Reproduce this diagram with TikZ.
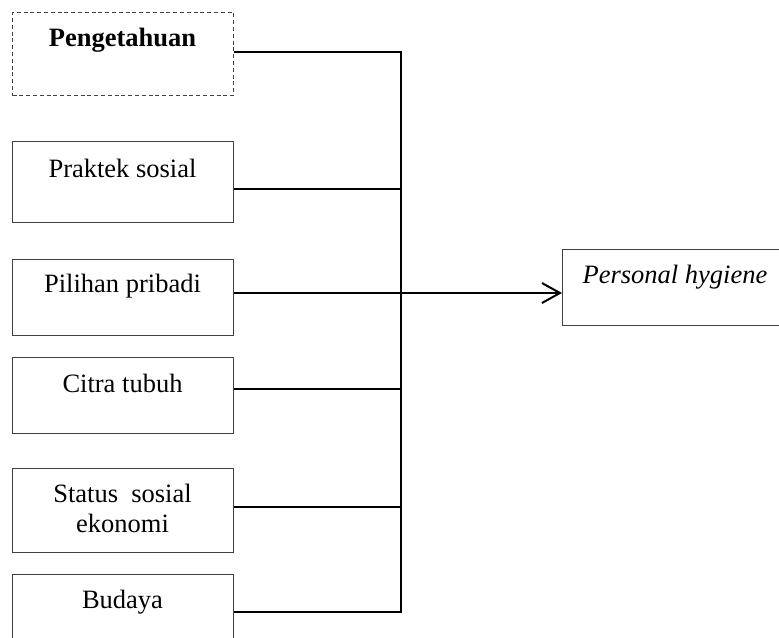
\documentclass[tikz,border=0pt]{standalone}
\usepackage{fontspec}
\setmainfont{Liberation Serif}
\usetikzlibrary{arrows.meta}
\begin{document}
\begin{tikzpicture}[x=0.5pt,y=-0.5pt,
  factor/.style={draw=black!75,line width=0.6pt,minimum width=110.5pt,inner sep=0pt,anchor=north west},
  lbl/.style={inner sep=0pt,font=\fontsize{13.25}{15}\selectfont,align=center},
  conn/.style={draw=black,line width=1pt}]
\useasboundingbox (0,0) rectangle (779,637);
\clip (0,0) rectangle (779,637);
% boxes
\node[factor,dashed,dash pattern=on 2pt off 1.4pt,minimum height=41.5pt] (p1) at (12,12) {};
\node[factor,minimum height=40.5pt] (p2) at (12,141) {};
\node[factor,minimum height=38pt] (p3) at (12,259) {};
\node[factor,minimum height=38pt] (p4) at (12,357) {};
\node[factor,minimum height=42pt] (p5) at (12,468) {};
\node[factor,minimum height=50pt] (p6) at (12,574) {};
\node[draw=black!75,line width=0.6pt,minimum width=130pt,minimum height=38pt,inner sep=0pt,anchor=north west] (ph) at (562,249) {};
% labels
\node[lbl,font=\fontsize{13.25}{15}\selectfont\bfseries] (t1) at (122.5,40) {Pengetahuan};
\node[lbl] (t2) at (122.5,168) {Praktek sosial};
\node[lbl] (t3) at (122.5,286) {Pilihan pribadi};
\node[lbl] (t4) at (122.5,383) {Citra tubuh};
\node[lbl] (t5) at (122.5,508) {Status\ \ sosial\\ekonomi};
\node[lbl] (t6) at (122.5,602) {Budaya};
\node[lbl,font=\fontsize{13.25}{15}\selectfont\itshape] (t7) at (675,277) {Personal hygiene};
% bus
\coordinate (j1) at (401,52);
\coordinate (j2) at (401,189);
\coordinate (j3) at (401,293);
\coordinate (j4) at (401,389);
\coordinate (j5) at (401,507);
\coordinate (j6) at (401,612);
\draw[conn] (p1.east |- j1) -- (j1) -- (j6) -- (p6.east |- j6);
\draw[conn] (p2.east |- j2) -- (j2);
\draw[conn] (p3.east |- j3) -- (j3);
\draw[conn] (p4.east |- j4) -- (j4);
\draw[conn] (p5.east |- j5) -- (j5);
\draw[conn,-{Straight Barb[length=9pt,width=10pt,line width=1pt]}] (j3) -- (ph.west |- j3);
\end{tikzpicture}
\end{document}
